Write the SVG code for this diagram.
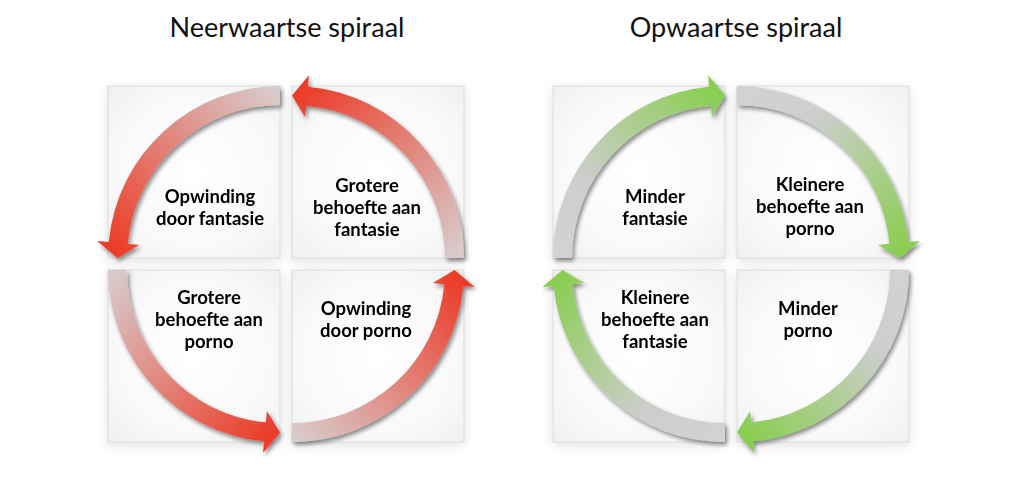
<svg xmlns="http://www.w3.org/2000/svg" width="1024" height="491" viewBox="0 0 1024 491">
<style>
.title{font-family:Lato,"Open Sans","Liberation Sans",sans-serif;font-size:27px;fill:#111;text-anchor:middle}
.lbl{font-family:Lato,"Open Sans","Liberation Sans",sans-serif;font-size:18.5px;font-weight:bold;fill:#000;text-anchor:middle}
.box{fill:url(#boxFill);stroke:#dadada;stroke-width:1}
.red{fill:url(#redGrad)}
.green{fill:url(#greenGrad)}
</style>
<defs>
<radialGradient id="boxFill" cx="50%" cy="50%" r="75%">
<stop offset="0" stop-color="#ffffff"/>
<stop offset="0.6" stop-color="#f9f9f9"/>
<stop offset="1" stop-color="#eeeeee"/>
</radialGradient>
<linearGradient id="redGrad" gradientUnits="userSpaceOnUse" x1="0" y1="-162.5" x2="-162.5" y2="0">
<stop offset="0" stop-color="#d8cbcb"/>
<stop offset="1" stop-color="#ec3a26"/>
</linearGradient>
<linearGradient id="greenGrad" gradientUnits="userSpaceOnUse" x1="0" y1="-162.5" x2="-162.5" y2="0">
<stop offset="0" stop-color="#d2d2d2"/>
<stop offset="0.3" stop-color="#cecece"/>
<stop offset="1" stop-color="#88ce4e"/>
</linearGradient>
<filter id="shadow" x="-15%" y="-15%" width="140%" height="140%">
<feGaussianBlur in="SourceAlpha" stdDeviation="2"/>
<feOffset dx="2" dy="2.5"/>
<feComponentTransfer><feFuncA type="linear" slope="0.45"/></feComponentTransfer>
<feMerge><feMergeNode/><feMergeNode in="SourceGraphic"/></feMerge>
</filter>
<filter id="boxShadow" x="-20%" y="-20%" width="140%" height="140%">
<feGaussianBlur in="SourceAlpha" stdDeviation="6"/>
<feOffset dx="0" dy="3"/>
<feComponentTransfer><feFuncA type="linear" slope="0.12"/></feComponentTransfer>
<feMerge><feMergeNode/><feMergeNode in="SourceGraphic"/></feMerge>
</filter>
<path id="arc" d="M 0 -172 A 172 172 0 0 0 -171.26 -15.89 L -182.71 -16.95 L -162.5 0 L -140.89 -13.07 L -152.35 -14.13 A 153 153 0 0 1 0 -153 Z"/>
</defs>
<rect width="1024" height="491" fill="#ffffff"/>

<text class="title" x="287" y="37">Neerwaartse spiraal</text>
<text class="title" x="736" y="37">Opwaartse spiraal</text>

<g id="n-opwinding-fantasie" filter="url(#boxShadow)">
<rect class="box" x="108" y="86" width="172" height="172"/>
<text class="lbl" x="210" y="203">Opwinding</text>
<text class="lbl" x="210" y="225">door fantasie</text>
</g>
<g id="n-grotere-fantasie" filter="url(#boxShadow)">
<rect class="box" x="292" y="86" width="172" height="172"/>
<text class="lbl" x="367" y="192">Grotere</text>
<text class="lbl" x="367" y="214">behoefte aan</text>
<text class="lbl" x="367" y="236">fantasie</text>
</g>
<g id="n-grotere-porno" filter="url(#boxShadow)">
<rect class="box" x="108" y="270" width="172" height="172"/>
<text class="lbl" x="209" y="304">Grotere</text>
<text class="lbl" x="209" y="326">behoefte aan</text>
<text class="lbl" x="209" y="348">porno</text>
</g>
<g id="n-opwinding-porno" filter="url(#boxShadow)">
<rect class="box" x="292" y="270" width="172" height="172"/>
<text class="lbl" x="366" y="315">Opwinding</text>
<text class="lbl" x="366" y="337">door porno</text>
</g>

<g id="n-minder-fantasie" filter="url(#boxShadow)">
<rect class="box" x="553" y="86" width="172" height="172"/>
<text class="lbl" x="655" y="203">Minder</text>
<text class="lbl" x="655" y="225">fantasie</text>
</g>
<g id="n-kleinere-porno" filter="url(#boxShadow)">
<rect class="box" x="737" y="86" width="172" height="172"/>
<text class="lbl" x="810" y="191">Kleinere</text>
<text class="lbl" x="810" y="213">behoefte aan</text>
<text class="lbl" x="810" y="235">porno</text>
</g>
<g id="n-kleinere-fantasie" filter="url(#boxShadow)">
<rect class="box" x="553" y="270" width="172" height="172"/>
<text class="lbl" x="655" y="304">Kleinere</text>
<text class="lbl" x="655" y="326">behoefte aan</text>
<text class="lbl" x="655" y="348">fantasie</text>
</g>
<g id="n-minder-porno" filter="url(#boxShadow)">
<rect class="box" x="737" y="270" width="172" height="172"/>
<text class="lbl" x="808" y="315">Minder</text>
<text class="lbl" x="808" y="337">porno</text>
</g>

<g id="connectors">
<g filter="url(#shadow)"><use href="#arc" class="red" transform="translate(280,258)"/></g>
<g filter="url(#shadow)"><use href="#arc" class="red" transform="translate(292,258) rotate(90)"/></g>
<g filter="url(#shadow)"><use href="#arc" class="red" transform="translate(280,270) rotate(-90)"/></g>
<g filter="url(#shadow)"><use href="#arc" class="red" transform="translate(292,270) rotate(180)"/></g>
<g filter="url(#shadow)"><use href="#arc" class="green" transform="translate(725,258) scale(-1,1) rotate(90)"/></g>
<g filter="url(#shadow)"><use href="#arc" class="green" transform="translate(737,258) scale(-1,1)"/></g>
<g filter="url(#shadow)"><use href="#arc" class="green" transform="translate(737,270) scale(-1,1) rotate(-90)"/></g>
<g filter="url(#shadow)"><use href="#arc" class="green" transform="translate(725,270) scale(-1,1) rotate(180)"/></g>
</g>
</svg>
